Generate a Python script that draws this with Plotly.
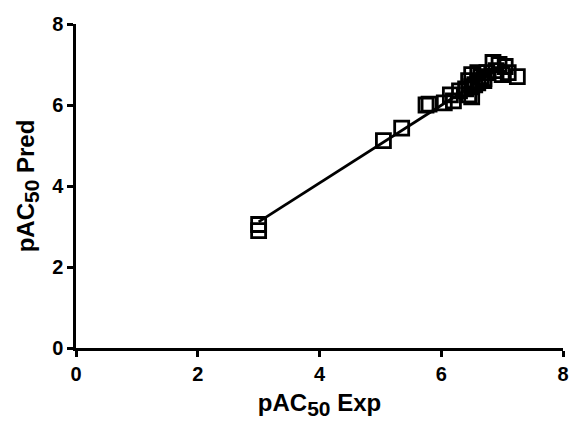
import numpy as np
import plotly.graph_objects as go

exp_vals = [3.0, 3.0, 5.05, 5.35, 5.75, 5.8, 6.05, 6.15, 6.2, 6.3, 6.45, 6.45, 6.5, 6.5,
            6.55, 6.6, 6.6, 6.65, 6.7, 6.75, 6.85, 6.9, 6.95, 7.0, 7.05, 7.1, 7.25, 6.5,
            6.4, 6.7]
pred_vals = [3.05, 2.9, 5.12, 5.43, 6.0, 6.02, 6.05, 6.25, 6.1, 6.35, 6.6, 6.25, 6.75, 6.45,
             6.5, 6.8, 6.55, 6.7, 6.6, 6.8, 7.05, 6.85, 7.0, 6.75, 6.95, 6.8, 6.7, 6.2,
             6.4, 6.65]
tick_vals = [0, 2, 4, 6, 8]

# linear regression through the points (line stops inside the cluster, as drawn)
slope, intercept = np.polyfit(exp_vals, pred_vals, 1)
fit_x = [3.0, 7.05]
fit_y = [slope * v + intercept for v in fit_x]

font = dict(family="Liberation Sans, Arial, sans-serif", color="black")
sub50 = "<sub><span style='font-size:21px'>50</span></sub>"

fig = go.Figure()
fig.add_trace(go.Scatter(
    x=fit_x, y=fit_y, mode="lines",
    line=dict(color="black", width=2.8), showlegend=False
))
fig.add_trace(go.Scatter(
    x=exp_vals, y=pred_vals, mode="markers",
    marker=dict(symbol="square-open", size=14, color="black",
                line=dict(color="black", width=2.8)),
    showlegend=False
))

axis = dict(
    range=[0, 8], tickvals=tick_vals, showgrid=False, zeroline=False,
    showline=True, linecolor="black", linewidth=2.5,
    ticks="outside", ticklen=6, tickwidth=2.5, tickcolor="black",
    tickfont=dict(size=20, weight="bold", **font),
)

fig.update_layout(
    width=571, height=427,
    margin=dict(l=76, r=8, t=24, b=79, autoexpand=False),
    paper_bgcolor="white", plot_bgcolor="white",
    xaxis=dict(axis, title=dict(text=f"<b>pAC{sub50} Exp</b>",
                                font=dict(size=24, **font), standoff=11)),
    yaxis=dict(axis, title=dict(text=f"<b>pAC{sub50} Pred</b>",
                                font=dict(size=24, **font), standoff=11)),
)

fig.write_html("out.html", config={"displayModeBar": False},
               post_script="document.body.style.margin='0';")
